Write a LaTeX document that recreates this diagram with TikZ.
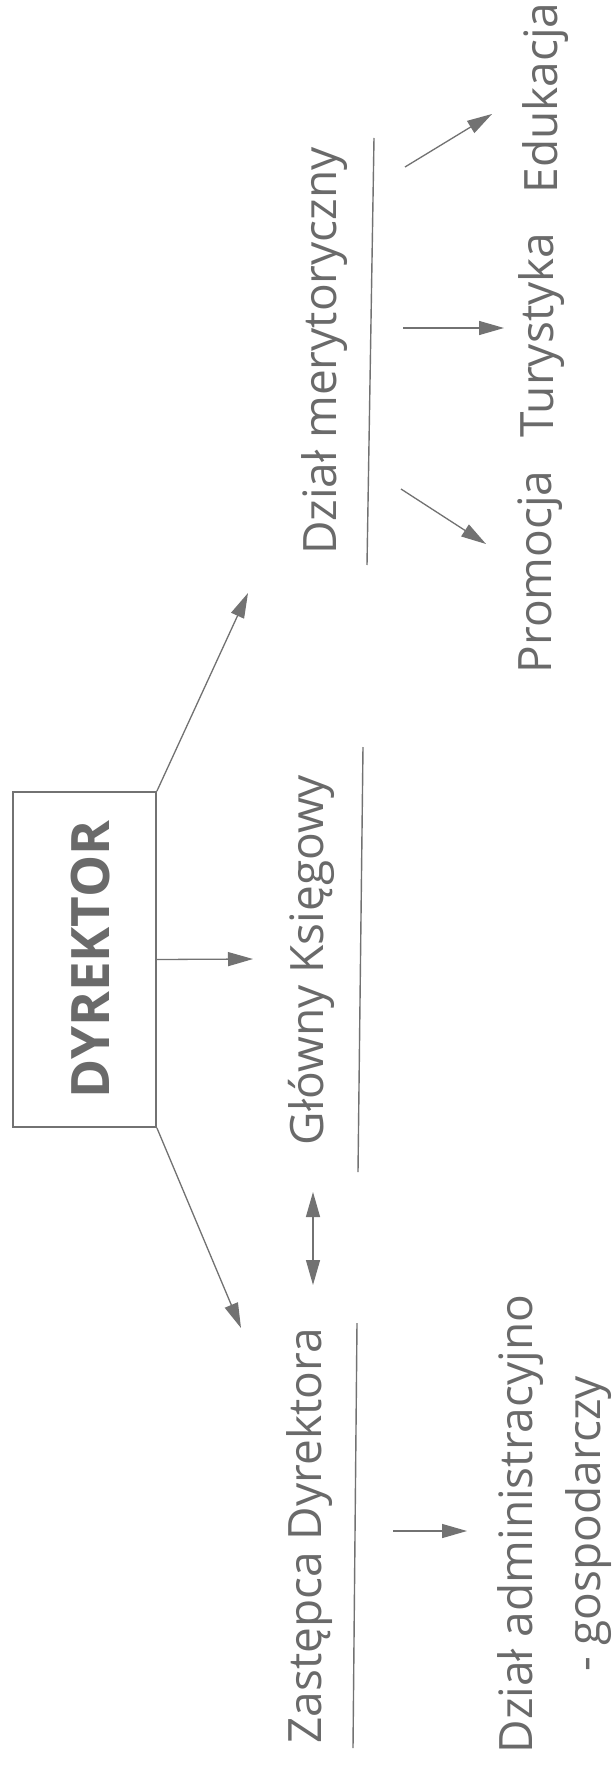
\documentclass[tikz,border=0pt]{standalone}
\usepackage{fontspec}
\setmainfont{Open Sans}
\usetikzlibrary{arrows.meta}
\definecolor{ink}{HTML}{6A6A6A}
\definecolor{lin}{HTML}{727272}
\begin{document}
\begin{tikzpicture}[x=1pt,y=-1pt,
  >={Triangle[length=25pt,width=14pt]},
  lbl/.style={rotate=90, anchor=base, inner sep=0pt, text=ink, font=\fontsize{46}{68}\selectfont},
  arr/.style={draw=lin, fill=lin, line width=1.3pt},
  uline/.style={draw=lin, line width=1.4pt},
  boxst/.style={draw=lin, line width=1.8pt, minimum width=143pt, minimum height=335pt, inner sep=0pt, text=ink}]
\fill[white] (0,0) rectangle (612,1784);
\useasboundingbox (0,0) rectangle (612,1784);

% main box
\node[boxst] (dyr) at (84.5,959.5) {\hspace*{13pt}\rotatebox{90}{\bfseries\fontsize{53}{58}\selectfont DYREKTOR}};

% labels
\node[lbl] (mer) at (336,351) {Dział merytoryczny};
\node[lbl] (gk) at (323,960) {Główny Księgowy};
\node[lbl] (zd) at (321,1536) {Zastępca Dyrektora};
\node[lbl] (edu) at (557,98) {Edukacja};
\node[lbl] (tur) at (553,335) {Turystyka};
\node[lbl] (pro) at (551,572) {Promocja};
\node[lbl, anchor=north, align=center] (adm) at (497,1524) {Dział administracyjno\\- gospodarczy};

% underlines
\draw[uline] (374,138) -- (367,565);
\draw[uline] (363,747) -- (358,1172);
\draw[uline] (357,1323) -- (353,1748);

% arrow end points
\coordinate (mtip) at (248,593);
\coordinate (gtip) at (253,959);
\coordinate (ztip) at (241,1328);
\coordinate (dA) at (313,1192);
\coordinate (dB) at (313,1285);
\coordinate (es) at (405,167);
\coordinate (et) at (492,114);
\coordinate (ts) at (403,328);
\coordinate (tt) at (504,328);
\coordinate (ps) at (401,489);
\coordinate (pt) at (486,544);
\coordinate (as) at (393,1531);
\coordinate (at) at (467,1531);

\draw[arr,->] (dyr.north east) -- (mtip);
\draw[arr,->] (dyr.east) -- (gtip);
\draw[arr,->] (dyr.south east) -- (ztip);
\draw[arr,<->] (dA) -- (dB);
\draw[arr,->] (es) -- (et);
\draw[arr,->] (ts) -- (tt);
\draw[arr,->] (ps) -- (pt);
\draw[arr,->] (as) -- (at);
\end{tikzpicture}
\end{document}
